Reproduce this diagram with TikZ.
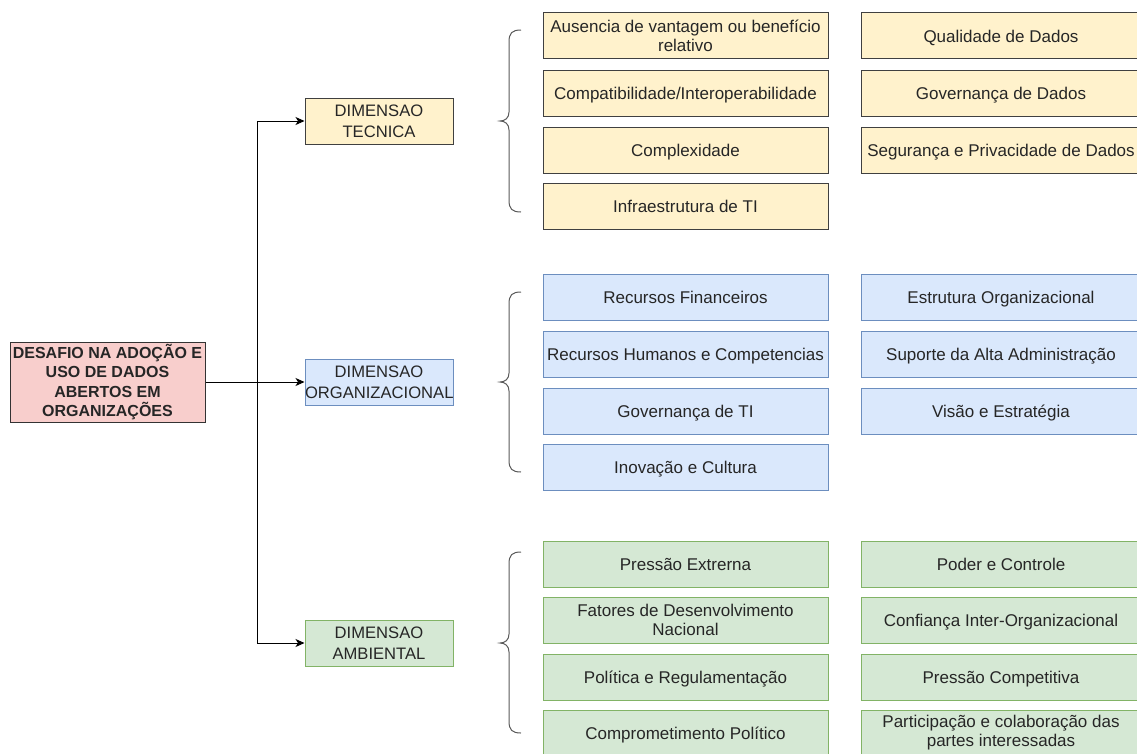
\documentclass[tikz,border=0pt]{standalone}
\usepackage{fontspec}
\setmainfont{Liberation Sans}
\usetikzlibrary{arrows.meta}

\definecolor{rootfill}{HTML}{F8CECC}
\definecolor{tecfill}{HTML}{FFF2CC}
\definecolor{orgfill}{HTML}{DAE8FC}
\definecolor{orgline}{HTML}{6C8EBF}
\definecolor{ambfill}{HTML}{D5E8D4}
\definecolor{ambline}{HTML}{82B366}

\tikzset{
  box/.style={draw, line width=1pt, text=black!85, align=center, inner sep=0pt,
    minimum height=46pt, font=\fontsize{17}{19}\selectfont},
  dimbox/.style={box, text width=148pt, font=\fontsize{16.6}{21}\selectfont},
  leftcol/.style={box, minimum width=285pt, text height=13pt, text depth=0pt},
  rightcol/.style={box, minimum width=280pt, text height=13pt, text depth=0pt},
  twoline/.style={text height=, text depth=},
  tec/.style={fill=tecfill, draw=black!75},
  org/.style={fill=orgfill, draw=orgline},
  amb/.style={fill=ambfill, draw=ambline},
  rootbox/.style={box, fill=rootfill, draw=black!80, minimum width=195pt, minimum height=80pt,
    font=\bfseries\fontsize{16}{19.5}\selectfont},
  brace/.style={draw=black!65, line width=1pt},
  link/.style={line width=1pt, -{Stealth[length=9pt,width=8pt,inset=2.5pt]}}
}

\begin{document}
\begin{tikzpicture}[x=1pt,y=-1pt]
\useasboundingbox (0,0) rectangle (1137,753);
\clip (0,0) rectangle (1137,753);

% raiz
\node[rootbox] (root) at (107.5,382) {DESAFIO NA ADOÇÃO E\\USO DE DADOS\\ABERTOS EM\\ORGANIZAÇÕES};

% dimensoes
\node[dimbox,tec] (dimtec) at (379,121) {DIMENSAO\\TECNICA};
\node[dimbox,org] (dimorg) at (379,382) {DIMENSAO\\ORGANIZACIONAL};
\node[dimbox,amb] (dimamb) at (379,643) {DIMENSAO\\AMBIENTAL};

\coordinate (junc) at (257,382);
\draw[link] (root.east) -- (dimorg.west);
\draw[link] (junc) |- (dimtec.west);
\draw[link] (junc) |- (dimamb.west);

% chaves
\draw[brace] (521,30) .. controls (512,30) and (509,33) .. (509,42) -- (509,112)
  .. controls (509,118) and (505,121) .. (500,121) .. controls (505,121) and (509,124) .. (509,130)
  -- (509,200) .. controls (509,209) and (512,212) .. (521,212);
\draw[brace] (521,292) .. controls (512,292) and (509,295) .. (509,304) -- (509,373)
  .. controls (509,379) and (505,382) .. (500,382) .. controls (505,382) and (509,385) .. (509,391)
  -- (509,460) .. controls (509,469) and (512,472) .. (521,472);
\draw[brace] (521,552) .. controls (512,552) and (509,555) .. (509,564) -- (509,634)
  .. controls (509,640) and (505,643) .. (500,643) .. controls (505,643) and (509,646) .. (509,652)
  -- (509,721) .. controls (509,730) and (512,733) .. (521,733);

% dimensao tecnica
\node[leftcol,twoline,tec] (tecA) at (685.5,35.5) {Ausencia de vantagem ou benefício\\relativo};
\node[leftcol,tec] (tecB) at (685.5,93) {Compatibilidade/Interoperabilidade};
\node[leftcol,tec] (tecC) at (685.5,150) {Complexidade};
\node[leftcol,tec] (tecD) at (685.5,206) {Infraestrutura de TI};
\node[rightcol,tec] (tecE) at (1001,35.5) {Qualidade de Dados};
\node[rightcol,tec] (tecF) at (1001,93) {Governança de Dados};
\node[rightcol,tec] (tecG) at (1001,150) {Segurança e Privacidade de Dados};

% dimensao organizacional
\node[leftcol,org] (orgA) at (685.5,297) {Recursos Financeiros};
\node[leftcol,org] (orgB) at (685.5,354) {Recursos Humanos e Competencias};
\node[leftcol,org] (orgC) at (685.5,411) {Governança de TI};
\node[leftcol,org] (orgD) at (685.5,467) {Inovação e Cultura};
\node[rightcol,org] (orgE) at (1001,297) {Estrutura Organizacional};
\node[rightcol,org] (orgF) at (1001,354) {Suporte da Alta Administração};
\node[rightcol,org] (orgG) at (1001,411) {Visão e Estratégia};

% dimensao ambiental
\node[leftcol,amb] (ambA) at (685.5,564) {Pressão Extrerna};
\node[leftcol,twoline,amb] (ambB) at (685.5,620) {Fatores de Desenvolvimento\\Nacional};
\node[leftcol,amb] (ambC) at (685.5,677) {Política e Regulamentação};
\node[leftcol,amb] (ambD) at (685.5,733) {Comprometimento Político};
\node[rightcol,amb] (ambE) at (1001,564) {Poder e Controle};
\node[rightcol,amb] (ambF) at (1001,620) {Confiança Inter-Organizacional};
\node[rightcol,amb] (ambG) at (1001,677) {Pressão Competitiva};
\node[rightcol,twoline,amb] (ambH) at (1001,733) {Participação e colaboração das\\partes interessadas};
\end{tikzpicture}
\end{document}
